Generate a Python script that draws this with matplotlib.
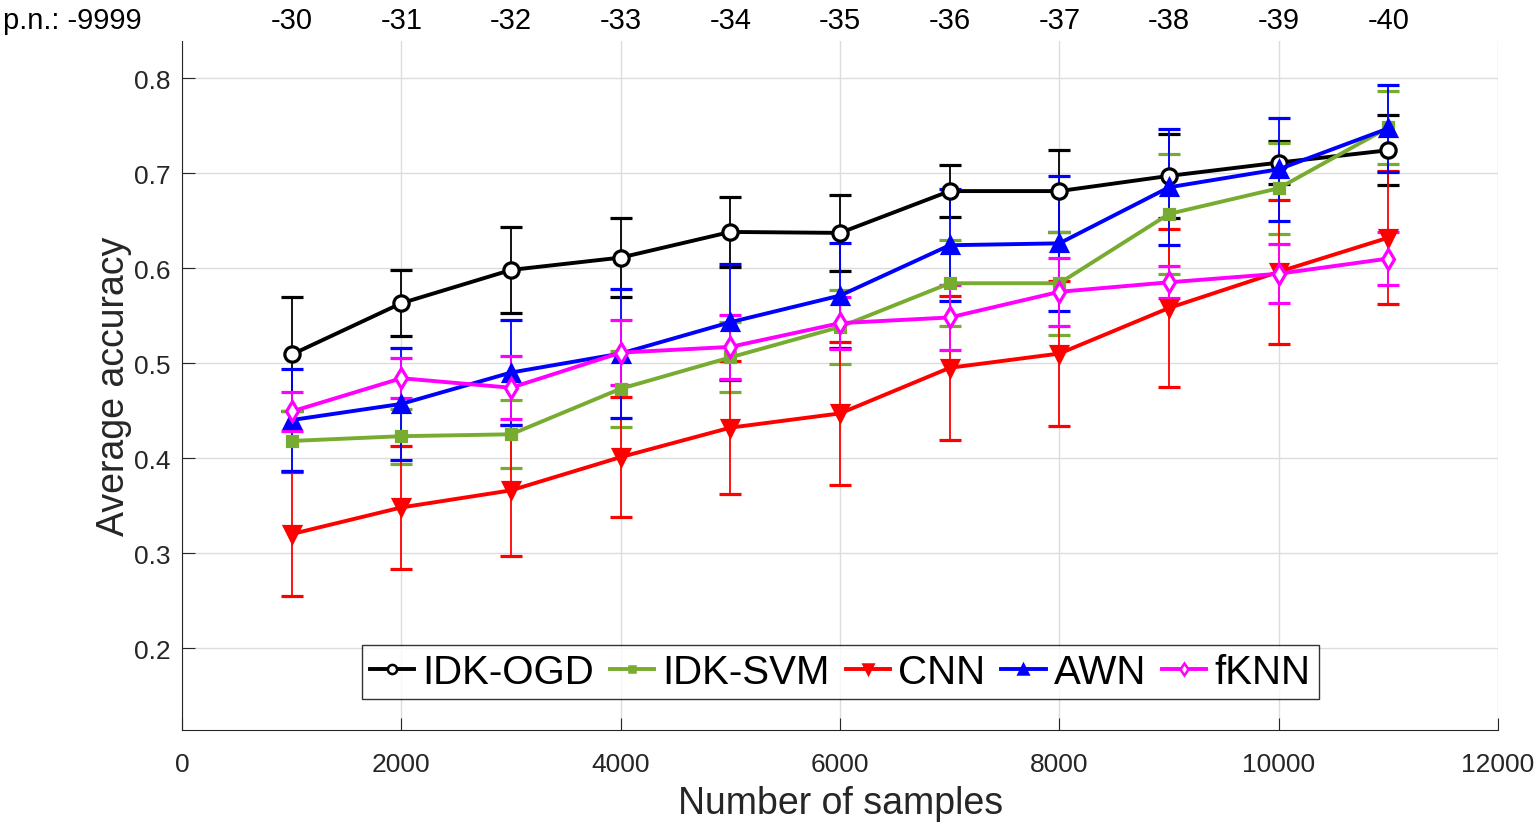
import numpy as np
import matplotlib.pyplot as plt
import matplotlib.transforms as mtransforms
from matplotlib.lines import Line2D

plt.rcParams['font.family'] = ['Liberation Sans', 'DejaVu Sans']

# ---------------------------
# Data
# ---------------------------
samples = [1000, 2000, 3000, 4000, 5000, 6000, 7000, 8000, 9000, 10000, 11000]
top_labels = ["-30", "-31", "-32", "-33", "-34", "-35", "-36", "-37", "-38", "-39", "-40"]

idk_ogd = [0.509, 0.563, 0.598, 0.611, 0.638, 0.637, 0.681, 0.681, 0.697, 0.711, 0.724]
idk_ogd_err = [0.060, 0.035, 0.045, 0.042, 0.037, 0.040, 0.027, 0.043, 0.044, 0.023, 0.037]

idk_svm = [0.418, 0.423, 0.425, 0.473, 0.506, 0.538, 0.584, 0.584, 0.657, 0.684, 0.748]
idk_svm_err = [0.032, 0.029, 0.036, 0.040, 0.037, 0.039, 0.045, 0.054, 0.063, 0.048, 0.038]

cnn = [0.320, 0.348, 0.366, 0.401, 0.432, 0.447, 0.495, 0.510, 0.558, 0.596, 0.632]
cnn_err = [0.065, 0.065, 0.069, 0.063, 0.070, 0.075, 0.076, 0.076, 0.083, 0.076, 0.070]

awn = [0.440, 0.457, 0.490, 0.510, 0.543, 0.571, 0.624, 0.626, 0.685, 0.704, 0.747]
awn_err = [0.054, 0.059, 0.055, 0.068, 0.061, 0.055, 0.059, 0.071, 0.061, 0.054, 0.046]

fknn = [0.449, 0.484, 0.474, 0.511, 0.517, 0.542, 0.548, 0.575, 0.585, 0.594, 0.610]
fknn_err = [0.021, 0.021, 0.033, 0.034, 0.034, 0.027, 0.034, 0.036, 0.017, 0.031, 0.028]

series = [
    ("IDK-OGD", idk_ogd, idk_ogd_err, "black", "o", "white", 11),
    ("IDK-SVM", idk_svm, idk_svm_err, "#77AC30", "s", "#77AC30", 6.5),
    ("CNN", cnn, cnn_err, "red", "v", "red", 11.5),
    ("AWN", awn, awn_err, "blue", "^", "blue", 11.5),
    ("fKNN", fknn, fknn_err, "magenta", "d", "white", 10.5),
]

# ---------------------------
# Plot
# ---------------------------
fig = plt.figure(figsize=(15.39, 8.28), dpi=100)
ax = fig.add_axes([0.1183, 0.1171, 0.8551, 0.8322])

handles = []
for name, vals, errs, col, mk, mfc, ms in series:
    ax.errorbar(samples, vals, yerr=errs, color=col, ecolor=col, elinewidth=1.3,
                capsize=8, capthick=1.3, linewidth=2.8, marker=mk, markersize=ms,
                markerfacecolor=mfc, markeredgecolor=col, markeredgewidth=2.3)
    handles.append(Line2D([], [], color=col, linewidth=2.8, marker=mk,
                          markersize=ms * 0.6, markerfacecolor=mfc,
                          markeredgecolor=col, markeredgewidth=1.8, label=name))

ax.set_xlim(0, 12000)
ax.set_ylim(0.1137, 0.839)
ax.set_xticks(np.arange(0, 12001, 2000))
ax.set_yticks([0.2, 0.3, 0.4, 0.5, 0.6, 0.7, 0.8])
ax.set_yticklabels(["0.2", "0.3", "0.4", "0.5", "0.6", "0.7", "0.8"])
ax.grid(True, color="#dcdcdc", linewidth=1)
ax.set_axisbelow(True)
for s in ["top", "right"]:
    ax.spines[s].set_visible(False)
for s in ["left", "bottom"]:
    ax.spines[s].set_color("#262626")
ax.tick_params(axis="both", labelsize=19, colors="#262626", direction="in", length=9)
ax.tick_params(axis="x", pad=16)
ax.tick_params(axis="y", pad=8)

ax.set_xlabel("Number of samples", fontsize=27, color="#262626", labelpad=6)
ax.set_ylabel("Average accuracy", fontsize=27, color="#262626", labelpad=2)

# labels above the plot
trans = mtransforms.blended_transform_factory(ax.transData, fig.transFigure)
for xv, lab in zip(samples, top_labels):
    ax.text(xv, 0.975, lab, transform=trans, ha="center", va="center", fontsize=21)
fig.text(0.002, 0.975, "p.n.: -9999", ha="left", va="center", fontsize=21)

leg = ax.legend(handles=handles, loc="lower center", ncol=5, fontsize=29, frameon=True,
                fancybox=False, edgecolor="black", handlelength=1.1, handletextpad=0.2,
                columnspacing=0.4, borderpad=0.2, borderaxespad=0,
                bbox_to_anchor=(0.5, 0.045))
leg.get_frame().set_linewidth(1.0)

fig.savefig("out.png", dpi=100)
